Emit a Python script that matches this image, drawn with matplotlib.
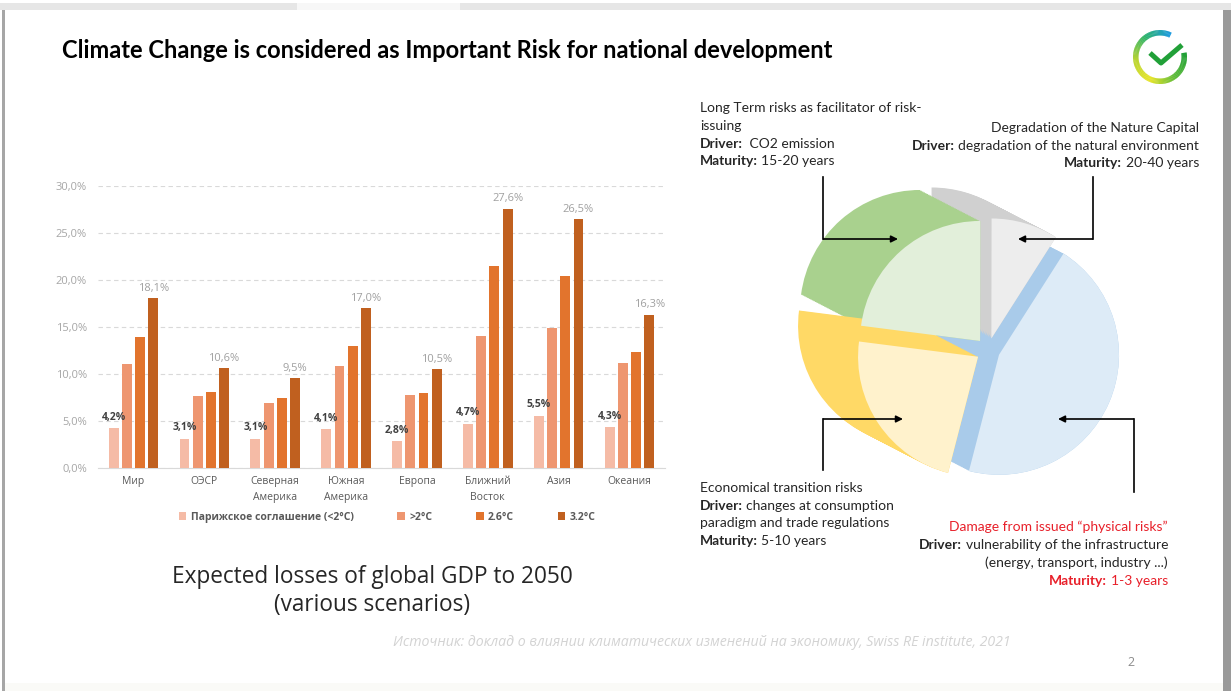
import numpy as np
import matplotlib
matplotlib.use('Agg')
import matplotlib.pyplot as plt
from matplotlib.patches import Wedge, Rectangle
from matplotlib.colors import LinearSegmentedColormap

W, H = 1231, 691

# bar chart data (% of GDP lost by 2050)
regions = ['Мир', 'ОЭСР', 'Северная\nАмерика', 'Южная\nАмерика', 'Европа',
           'Ближний\nВосток', 'Азия', 'Океания']
paris = [4.2, 3.1, 3.1, 4.1, 2.8, 4.7, 5.5, 4.3]
above_2 = [11.0, 7.6, 6.9, 10.8, 7.7, 14.0, 14.9, 11.2]
deg_26 = [13.9, 8.1, 7.4, 13.0, 8.0, 21.5, 20.4, 12.3]
deg_32 = [18.1, 10.6, 9.5, 17.0, 10.5, 27.6, 26.5, 16.3]
scenarios = ['Парижское соглашение (<2°C)', '>2°C', '2.6°C', '3.2°C']
bar_colors = ['#F5BBA6', '#EE9670', '#E2742D', '#C0601F']

# risk pie (shares, counter-clockwise from the gray slice)
risk_names = ['Nature Capital', 'Long Term', 'Transition', 'Physical']
risk_shares = [9, 23, 23, 45]
face_colors = ['#EDEDED', '#E2EFDA', '#FFF2CC', '#DDEBF7']
side_colors = ['#D0D0D0', '#A9D18E', '#FFD966', '#A9CBEA']

TXT = ['Lato', 'DejaVu Sans']
CHART = ['Open Sans', 'DejaVu Sans']

fig = plt.figure(figsize=(W / 100, H / 100), dpi=100)
bg = fig.add_axes([0, 0, 1, 1])
bg.set_xlim(0, W)
bg.set_ylim(H, 0)
bg.axis('off')
renderer = fig.canvas.get_renderer()

# slide frame
bg.add_patch(Rectangle((0, 3), W, 7, color='#E6E6E6', lw=0))
bg.add_patch(Rectangle((297, 3), 163, 7, color='#F7F7F7', lw=0))
bg.add_patch(Rectangle((2, 10), 3, H, color='#A6A6A6', lw=0))
bg.add_patch(Rectangle((1223, 10), 8, H, color='#9A9A9A', lw=0))
bg.add_patch(Rectangle((5, 683), 1218, 8, color='#FAFAF7', lw=0))

bg.text(62, 50, 'Climate Change is considered as Important Risk for national development',
        fontsize=17, fontweight='bold', family=TXT, va='center', ha='left')

# logo
cmap = LinearSegmentedColormap.from_list('sber', ['#1E9BE0', '#2DB36B', '#B9D432', '#E8E52A', '#5CBB3A', '#21A038'])
angs = np.linspace(65, 370, 120)
for k in range(len(angs) - 1):
    bg.add_patch(Wedge((1160, 57), 27, -angs[k + 1], -angs[k] + 0.8, width=5.5,
                       color=cmap(k / (len(angs) - 2)), lw=0))
bg.plot([1150, 1161, 1182], [53, 63, 45], color='#21A038', lw=3.6, solid_capstyle='butt')

# ---- bar chart ----
ax = fig.add_axes([98 / W, 1 - 467.7 / H, 567 / W, 281.7 / H])
x = np.arange(len(regions))
step, bw = 0.186, 0.14
series = [paris, above_2, deg_26, deg_32]
for i, (vals, c, lab) in enumerate(zip(series, bar_colors, scenarios)):
    ax.bar(x + (i - 1.5) * step, vals, bw, color=c, label=lab, zorder=3)
for xi, v in zip(x, paris):
    ax.annotate(f'{v:.1f}%'.replace('.', ','), (xi - 1.5 * step, v), xytext=(0, 4),
                textcoords='offset points', ha='center', va='bottom', fontsize=7.5,
                fontweight='bold', color='#404040', family=CHART)
for xi, v in zip(x, deg_32):
    ax.annotate(f'{v:.1f}%'.replace('.', ','), (xi + 1.5 * step, v), xytext=(0, 3),
                textcoords='offset points', ha='center', va='bottom', fontsize=8,
                color='#A0A0A0', family=CHART)
ax.set_xlim(-0.5, 7.5)
ax.set_ylim(0, 30)
yt = list(range(0, 31, 5))
ax.set_yticks(yt)
ax.set_yticklabels([f'{v:.1f}%'.replace('.', ',') for v in yt], fontsize=8,
                   color='#A6A6A6', family=CHART)
ax.set_xticks(x)
ax.set_xticklabels(regions, fontsize=7.5, color='#595959', family=CHART, linespacing=1.6)
ax.tick_params(length=0, axis='y', pad=8)
ax.tick_params(length=0, axis='x', pad=6)
ax.grid(axis='y', ls=(0, (4, 3)), color='#D9D9D9', lw=0.8, zorder=0)
for s in ['top', 'right', 'left']:
    ax.spines[s].set_visible(False)
ax.spines['bottom'].set_color('#D9D9D9')
ax.set_facecolor('none')
leg = fig.legend(*ax.get_legend_handles_labels(), loc='center',
                 bbox_to_anchor=(387 / W, 1 - 517 / H), ncol=4, frameon=False,
                 handlelength=0.75, handleheight=0.75, handletextpad=0.4, columnspacing=4.2,
                 prop={'family': CHART, 'size': 7.5, 'weight': 'bold'})
for t in leg.get_texts():
    t.set_color('#595959')

bg.text(372, 591, 'Expected losses of global GDP to 2050\n(various scenarios)', fontsize=16.3,
        family=CHART, ha='center', va='center', color='#262626', linespacing=1.2)

bg.text(393, 643, 'Источник: доклад о влиянии климатических изменений на экономику, Swiss RE institute, 2021',
        fontsize=10.2, style='italic', color='#D3D3D3', family=CHART, va='center')
bg.text(1127, 663, '2', fontsize=9, color='#8C8C8C', family=CHART, va='center')

# ---- 3D-ish exploded pie ----
cx, cy, R, expl = 988, 350, 120, 12
ext = np.array([-60, -31])
start = 57.5
bounds = start + 360 * np.concatenate([[0], np.cumsum(risk_shares)]) / sum(risk_shares)
centers = []
for k in range(len(risk_shares)):
    mid = np.radians((bounds[k] + bounds[k + 1]) / 2)
    centers.append(np.array([cx + expl * np.cos(mid), cy - expl * np.sin(mid)]))
draw_order = [3, 0, 1, 2]
for k in draw_order:
    for t in np.linspace(1, 0, 40):
        c = centers[k] + t * ext
        bg.add_patch(Wedge(tuple(c), R, -bounds[k + 1], -bounds[k], color=side_colors[k], lw=0))
for k in draw_order:
    bg.add_patch(Wedge(tuple(centers[k]), R, -bounds[k + 1], -bounds[k], color=face_colors[k], lw=0))

# elbow arrows
arrows = [((823, 177), (823, 239), (898, 239)),
          ((1093, 177), (1093, 239), (1018, 239)),
          ((823, 470), (823, 419), (903, 419)),
          ((1134, 492), (1134, 419), (1058, 419))]
for p0, p1, p2 in arrows:
    bg.plot([p0[0], p1[0]], [p0[1], p1[1]], color='black', lw=1.2)
    bg.annotate('', xy=p2, xytext=(p1[0] + (0.6 if p2[0] > p1[0] else -0.6), p1[1]),
                arrowprops=dict(arrowstyle='-|>', color='black', lw=1.2, mutation_scale=10,
                                shrinkA=0, shrinkB=0))


def rich_line(x, y, parts, ha='left', size=10):
    gap = 0.25 * size * 100 / 72
    items = parts if ha == 'left' else parts[::-1]
    pos = x
    for text, weight, color in items:
        t = bg.text(pos, y, text, fontsize=size, fontweight=weight, color=color,
                    family=TXT, ha=ha, va='center')
        w = t.get_window_extent(renderer).width
        pos = pos + w + gap if ha == 'left' else pos - w - gap


K, RED = '#262626', '#E8202A'
rich_line(700, 108, [('Long Term risks as facilitator of risk-', 'normal', K)])
rich_line(700, 126, [('issuing', 'normal', K)])
rich_line(700, 144, [('Driver:', 'bold', K), (' CO2 emission', 'normal', K)])
rich_line(700, 161, [('Maturity:', 'bold', K), ('15-20 years', 'normal', K)])

rich_line(1199, 128, [('Degradation of the Nature Capital', 'normal', K)], ha='right')
rich_line(1199, 146, [('Driver:', 'bold', K), ('degradation of the natural environment', 'normal', K)], ha='right')
rich_line(1199, 163, [('Maturity:', 'bold', K), ('20-40 years', 'normal', K)], ha='right')

rich_line(700, 488, [('Economical transition risks', 'normal', K)])
rich_line(700, 506, [('Driver:', 'bold', K), ('changes at consumption', 'normal', K)])
rich_line(700, 523, [('paradigm and trade regulations', 'normal', K)])
rich_line(700, 541, [('Maturity:', 'bold', K), ('5-10 years', 'normal', K)])

rich_line(1168, 527, [('Damage from issued \u201cphysical risks\u201d', 'normal', RED)], ha='right')
rich_line(1168, 545, [('Driver:', 'bold', K), ('vulnerability of the infrastructure', 'normal', K)], ha='right')
rich_line(1168, 563, [('(energy, transport, industry ...)', 'normal', K)], ha='right')
rich_line(1168, 581, [('Maturity:', 'bold', RED), ('1-3 years', 'normal', RED)], ha='right')

fig.savefig('out.png', dpi=100)
